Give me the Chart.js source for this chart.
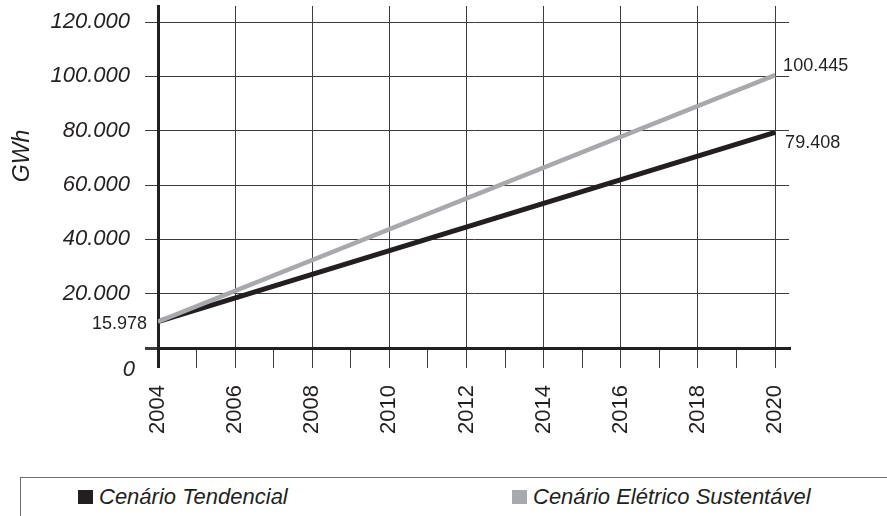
<!DOCTYPE html>
<html lang="pt-BR">
<head>
<meta charset="utf-8">
<script src="https://cdn.jsdelivr.net/npm/chart.js@4.4.1/dist/chart.umd.min.js"></script>
<style>
  html, body { margin: 0; padding: 0; background: #fff; }
  #wrap { position: relative; width: 887px; height: 516px; overflow: hidden; }
  #box { position: absolute; left: 0; top: 0; width: 887px; height: 477px; }
  #legenda {
    position: absolute; left: 20px; top: 477px; width: 867px; height: 39px;
    border-top: 1px solid #6d6d6d; border-left: 1px solid #6d6d6d; box-sizing: border-box;
    font: italic 22px "Liberation Sans", Arial, sans-serif; color: #231f20;
  }
  .item { position: absolute; top: 0; height: 38px; display: flex; align-items: center; white-space: nowrap; }
  .item i { display: inline-block; width: 15px; height: 14px; margin-right: 6px; }
</style>
</head>
<body>
<div id="wrap">
  <div id="box"><canvas id="grafico"></canvas></div>
  <div id="legenda"></div>
</div>
<script>
const anos = [2004, 2020]
const tendencial = [9700, 79408]
const sustentavel = [9700, 100445]
const rotulosTendencial = ['', '79.408']
const rotulosSustentavel = ['15.978', '100.445']
const series = ['Cenário Tendencial', 'Cenário Elétrico Sustentável']
const yTicks = [0, 20000, 40000, 60000, 80000, 100000, 120000]
const xTicks = []
for (let a = 2004; a <= 2020; a++) xTicks.push(a)

const fonte = '"Liberation Sans", Arial, sans-serif'
const corTexto = '#231f20'
const corGrade = '#3c3c3c'

const milhar = (v) => String(v).replace(/\B(?=(\d{3})+(?!\d))/g, '.')

const semPadding = (s) => {
  s.paddingTop = 0
  s.paddingBottom = 0
  s.paddingLeft = 0
  s.paddingRight = 0
}

// rotulos de valor nas pontas das linhas, titulo do eixo y e o zero deslocado
const rotulosPlugin = {
  id: 'rotulos',
  afterDatasetsDraw(chart) {
    const ctx = chart.ctx
    ctx.save()
    ctx.font = '18px ' + fonte
    ctx.fillStyle = corTexto
    ctx.textBaseline = 'middle'
    chart.data.datasets.forEach((ds, i) => {
      const meta = chart.getDatasetMeta(i)
      meta.data.forEach((pt, j) => {
        const txt = ds.rotulos[j]
        if (!txt) return
        const off = ds.rotuloOffset[j]
        ctx.textAlign = off[0] < 0 ? 'right' : 'left'
        ctx.fillText(txt, pt.x + off[0], pt.y + off[1])
      })
    })
    // zero do eixo y fica abaixo da linha do eixo x
    const ys = chart.scales.y
    ctx.font = 'italic 22px ' + fonte
    ctx.textAlign = 'right'
    ctx.fillText(milhar(yTicks[0]), ys.right - 23, ys.getPixelForValue(yTicks[0]) + 22)
    // titulo do eixo y
    ctx.font = 'italic 23px ' + fonte
    ctx.translate(23, 156)
    ctx.rotate(-Math.PI / 2)
    ctx.textAlign = 'center'
    ctx.fillText('GWh', 0, 0)
    ctx.restore()
  }
}

const grafico = new Chart(document.getElementById('grafico').getContext('2d'), {
  type: 'line',
  data: {
    datasets: [
      {
        label: series[0],
        data: anos.map((a, i) => ({ x: a, y: tendencial[i] })),
        borderColor: '#231f20',
        backgroundColor: '#231f20',
        borderWidth: 5,
        pointRadius: 0,
        order: 2,
        rotulos: rotulosTendencial,
        rotuloOffset: [[0, 0], [10, 11]]
      },
      {
        label: series[1],
        data: anos.map((a, i) => ({ x: a, y: sustentavel[i] })),
        borderColor: '#a7a9ac',
        backgroundColor: '#a7a9ac',
        borderWidth: 4.5,
        pointRadius: 0,
        order: 1,
        rotulos: rotulosSustentavel,
        rotuloOffset: [[-11, 2], [8, -9]]
      }
    ]
  },
  options: {
    responsive: true,
    maintainAspectRatio: false,
    animation: false,
    layout: {
      autoPadding: false,
      padding: { top: 6, right: 98, left: 0, bottom: 0 }
    },
    plugins: {
      legend: { display: false },
      tooltip: { enabled: false }
    },
    scales: {
      x: {
        type: 'linear',
        min: 2004,
        max: 2020.36,
        afterBuildTicks: (s) => { s.ticks = xTicks.map((v) => ({ value: v })) },
        afterFit: (s) => { s.height = 129; semPadding(s) },
        ticks: {
          autoSkip: false,
          minRotation: 90,
          maxRotation: 90,
          padding: 17,
          color: corTexto,
          font: { family: fonte, size: 22 },
          callback: (v) => (v % 2 === 0 ? String(v) : '')
        },
        grid: {
          color: (c) => (c.tick && c.tick.value % 2 ? 'rgba(0,0,0,0)' : corGrade),
          tickColor: (c) => (c.tick && c.tick.value === 2004 ? corTexto : corGrade),
          lineWidth: (c) => (c.tick && c.tick.value === 2004 ? 3 : 1),
          tickLength: 20
        },
        border: { width: 3, color: corTexto }
      },
      y: {
        min: 0,
        max: 125900,
        afterBuildTicks: (s) => { s.ticks = yTicks.map((v) => ({ value: v })) },
        afterFit: (s) => { s.width = 158; semPadding(s) },
        ticks: {
          padding: 15,
          color: corTexto,
          font: { family: fonte, size: 22, style: 'italic' },
          callback: (v) => (v === 0 ? '' : milhar(v))
        },
        grid: {
          color: corGrade,
          lineWidth: (c) => (c.tick && c.tick.value === 0 ? 3 : 1),
          tickLength: 13
        },
        border: { width: 3, color: corTexto }
      }
    }
  },
  plugins: [rotulosPlugin]
})

// legenda em html
const posLegenda = [57, 491]
const leg = document.getElementById('legenda')
grafico.data.datasets.forEach((ds, i) => {
  const item = document.createElement('div')
  item.className = 'item'
  item.style.left = posLegenda[i] + 'px'
  const q = document.createElement('i')
  q.style.background = ds.borderColor
  item.appendChild(q)
  item.appendChild(document.createTextNode(ds.label))
  leg.appendChild(item)
})
</script>
</body>
</html>
